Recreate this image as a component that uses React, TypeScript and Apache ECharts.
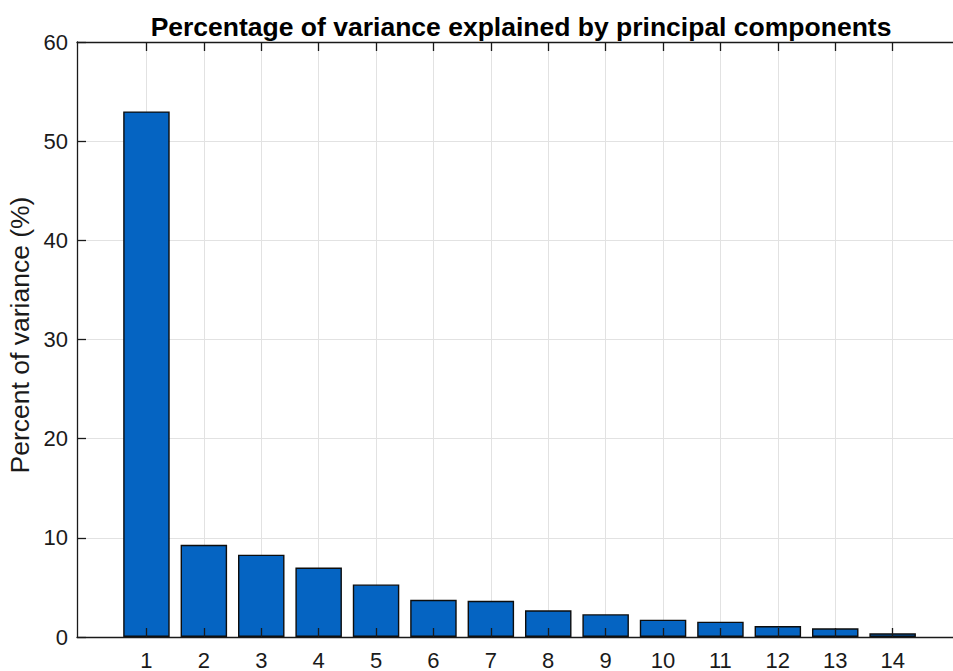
import React, { useEffect, useRef } from "react";
import * as echarts from "echarts";

// Principal component index and percentage of variance explained
const components = [1, 2, 3, 4, 5, 6, 7, 8, 9, 10, 11, 12, 13, 14];
const variancePct = [53.0, 9.3, 8.3, 7.0, 5.3, 3.75, 3.65, 2.7, 2.3, 1.75, 1.55, 1.1, 0.87, 0.37];
const yTicks = [0, 10, 20, 30, 40, 50, 60];

const FONT = "'Liberation Sans', Arial, Helvetica, sans-serif";
const INK = "#1a1a1a";

export default function App() {
  const ref = useRef<HTMLDivElement>(null);

  useEffect(() => {
    document.body.style.margin = "0";
    if (!ref.current) return;
    const chart = echarts.init(ref.current, undefined, { renderer: "svg" });

    // The plot box runs a little past the right edge of the canvas
    const xMin = -0.21;
    const xMax = 15.4;

    const tickStyle = { color: INK, width: 1.3 };

    chart.setOption({
      animation: false,
      backgroundColor: "#ffffff",
      title: {
        text: "Percentage of variance explained by principal components",
        left: 516,
        textAlign: "center",
        top: 8,
        textStyle: { fontFamily: FONT, fontWeight: "bold", fontSize: 26.5, color: "#000" },
      },
      grid: { left: 77, top: 42, right: -20, bottom: 34, outerBoundsMode: "none", containLabel: false },
      xAxis: [
        {
          type: "value",
          position: "bottom",
          min: xMin,
          max: xMax,
          z: 20,
          axisLine: { show: true, onZero: false, lineStyle: tickStyle },
          axisTick: { show: true, inside: true, length: 9, customValues: components, lineStyle: tickStyle },
          axisLabel: {
            customValues: components,
            fontFamily: FONT,
            fontSize: 22,
            color: INK,
            margin: 12,
          },
          splitLine: { show: false },
        },
        {
          type: "value",
          position: "top",
          min: xMin,
          max: xMax,
          z: 20,
          axisLine: { show: true, onZero: false, lineStyle: tickStyle },
          axisTick: { show: true, inside: true, length: 9, customValues: components, lineStyle: tickStyle },
          axisLabel: { show: false },
          splitLine: { show: false },
        },
      ],
      yAxis: {
        type: "value",
        min: yTicks[0],
        max: yTicks[yTicks.length - 1],
        interval: 10,
        name: "Percent of variance (%)",
        nameLocation: "middle",
        nameGap: 44,
        nameMoveOverlap: false,
        nameTextStyle: { fontFamily: FONT, fontSize: 26.5, color: INK, padding: [0, 0, 0, 9] },
        axisLine: { show: true, onZero: false, lineStyle: tickStyle },
        axisTick: { show: true, inside: true, length: 9, lineStyle: tickStyle },
        axisLabel: { fontFamily: FONT, fontSize: 22, color: INK, margin: 9 },
        splitLine: { show: true, lineStyle: { color: "#e2e2e2", width: 1 } },
      },
      series: [
        {
          type: "bar",
          xAxisIndex: 0,
          data: components.map((c, i) => [c, variancePct[i]]),
          barWidth: 46.5,
          z: 5,
          itemStyle: { color: "#0564C2", borderColor: "#0d0d0d", borderWidth: 1.4 },
          markLine: {
            z: 1,
            silent: true,
            symbol: ["none", "none"],
            label: { show: false },
            lineStyle: { color: "#e2e2e2", width: 1, type: "solid" },
            data: components.map((c) => ({ xAxis: c })),
          },
        },
      ],
    });

    return () => chart.dispose();
  }, []);

  return <div ref={ref} style={{ width: 953, height: 671 }} />;
}
